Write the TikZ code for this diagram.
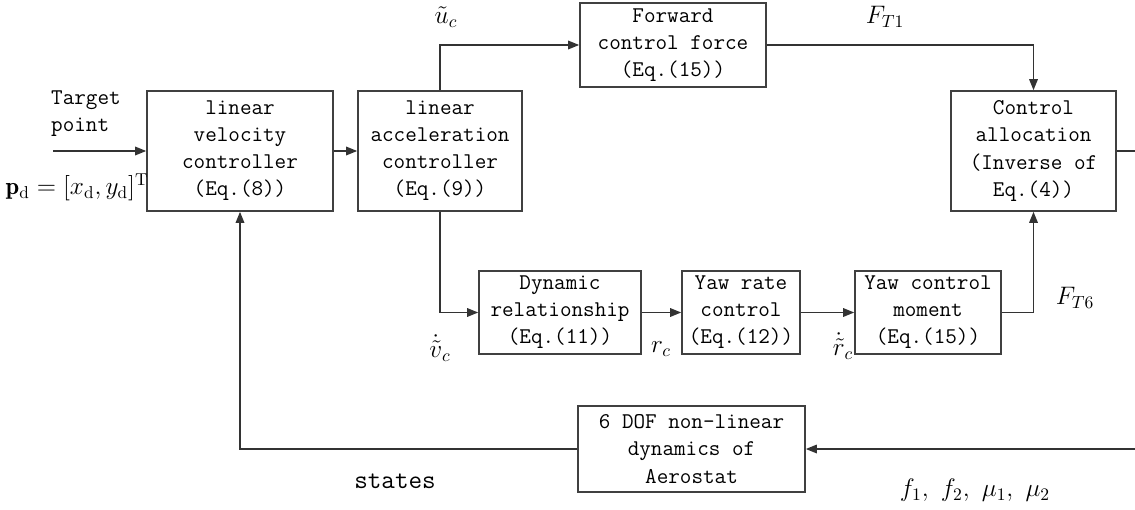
\documentclass[tikz,border=0pt]{standalone}
\usepackage{fontspec}
\usetikzlibrary{arrows.meta}
\newdimen\pxu \pxu=0.02cm
\begin{document}
\begin{tikzpicture}[x=0.02cm,y=-0.02cm,
  txt/.style={font=\ttfamily\fontsize{12.8}{15.4}\selectfont},
  box/.style={txt, draw=black!75, line width=0.9pt, align=center, inner sep=0pt},
  conn/.style={draw=black!80, line width=0.9pt},
  arr/.style={conn, -{Triangle[length=2.2mm,width=1.7mm]}},
  lab/.style={font=\fontsize{14}{16}\selectfont, inner sep=0pt}]
\useasboundingbox (0,0) rectangle (1135,510);
% blocks
\node[box, minimum width=186\pxu, minimum height=120\pxu] (vel) at (240,151) {linear\\velocity\\controller\\(Eq.(8))};
\node[box, minimum width=164\pxu, minimum height=120\pxu] (acc) at (440,151) {linear\\acceleration\\controller\\(Eq.(9))};
\node[box, minimum width=186\pxu, minimum height=84\pxu] (fwd) at (673,45) {Forward\\control force\\(Eq.(15))};
\node[box, minimum width=165\pxu, minimum height=120\pxu] (alloc) at (1033.5,151) {Control\\allocation\\(Inverse of\\Eq.(4))};
\node[box, minimum width=162\pxu, minimum height=83\pxu] (dyn) at (560,312.5) {Dynamic\\relationship\\(Eq.(11))};
\node[box, minimum width=118\pxu, minimum height=83\pxu] (yawr) at (741,312.5) {Yaw rate\\control\\(Eq.(12))};
\node[box, minimum width=146\pxu, minimum height=83\pxu] (yawm) at (928,312.5) {Yaw control\\moment\\(Eq.(15))};
\node[box, minimum width=227\pxu, minimum height=86\pxu] (dof) at (691.5,449) {6 DOF non-linear\\dynamics of\\Aerostat};
% free ends
\coordinate (tgt) at (53,151);
\coordinate (ro) at (1135,151);
\coordinate (ri) at (1135,449);
% connectors
\draw[arr] (tgt) -- (vel.west);
\draw[arr] (vel.east) -- (acc.west);
\draw[arr] (acc.north) |- (fwd.west);
\draw[arr] (fwd.east) -| (alloc.north);
\draw[arr] (acc.south) |- (dyn.west);
\draw[arr] (dyn.east) -- (yawr.west);
\draw[arr] (yawr.east) -- (yawm.west);
\draw[arr] (yawm.east) -| (alloc.south);
\draw[conn] (alloc.east) -- (ro);
\draw[arr] (ri) -- (dof.east);
\draw[arr] (dof.west) -| (vel.south);
% labels
\node[txt, align=left, anchor=west] (tp) at (45,114) {Target\\point};
\node[lab] (pd) at (77,187) {$\mathbf{p}_\mathrm{d}=[x_\mathrm{d},y_\mathrm{d}]^\mathrm{T}$};
\node[lab] (lu) at (446,17) {$\tilde{u}_c$};
\node[lab] (lft1) at (885,17) {$F_{T1}$};
\node[lab] (lv) at (440,348) {$\dot{\tilde{v}}_c$};
\node[lab] (lr) at (661,349) {$r_c$};
\node[lab] (lrd) at (843,346) {$\dot{\tilde{r}}_c$};
\node[lab] (lft6) at (1075,298) {$F_{T6}$};
\node[lab] (lf) at (975,490) {$f_1,\ f_2,\ \mu_1,\ \mu_2$};
\node[font=\ttfamily\fontsize{15}{17}\selectfont] (st) at (395,481) {states};
\end{tikzpicture}
\end{document}
